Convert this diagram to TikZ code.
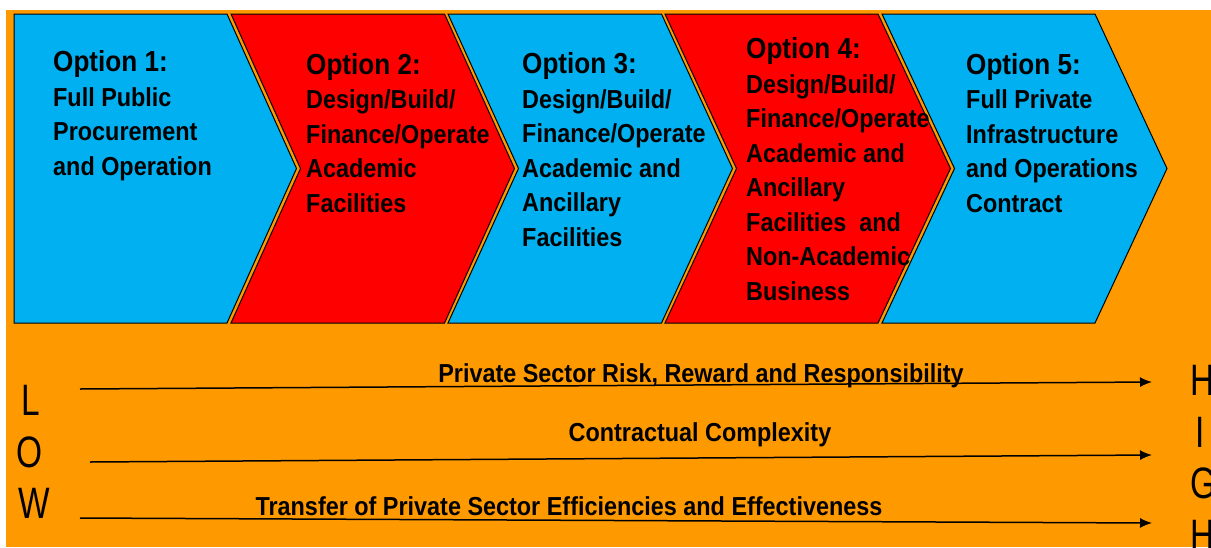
\documentclass[tikz,border=0pt]{standalone}
\usepackage{fontspec}
\setmainfont{Liberation Sans}[FakeStretch=0.9]
\newfontfamily\tallfont{Liberation Sans}[FakeStretch=0.76]
\usetikzlibrary{arrows.meta}

\definecolor{pptorange}{RGB}{255,153,0}
\definecolor{pptblue}{RGB}{0,176,240}
\definecolor{pptred}{RGB}{255,0,0}

\newcommand\optfont{\fontsize{29}{34.5}\selectfont}

\begin{document}
\begin{tikzpicture}[
    x=1pt, y=-1pt,
    chev/.style={
        draw=black, line width=1pt, line join=miter},
    blue chev/.style={chev, fill=pptblue},
    red chev/.style={chev, fill=pptred},
    % base anchor of a multi-line node sits on its last line
    opttext/.style={
        anchor=base west, align=left, inner sep=0pt,
        font=\fontsize{26}{34.5}\selectfont\bfseries},
    arr/.style={-{Latex[length=12pt,width=10pt]}, line width=1.5pt},
    arrlabel/.style={
        anchor=base, inner sep=0pt,
        font=\fontsize{26}{30}\selectfont\bfseries},
    endletter/.style={
        anchor=base, inner sep=0pt,
        font=\tallfont\fontsize{44}{50}\selectfont}
]

%% ── Page and background ─────────────────────────────────────────
\useasboundingbox (0,0) rectangle (1211,547);
\fill[white] (0,0) rectangle (1211,547);
\fill[pptorange] (6,10) rectangle (1211,547);

%% ── Chevrons ────────────────────────────────────────────────────
\filldraw[blue chev]
    (14,14) -- (227,14) -- (296.5,168.5) -- (227,323) -- (14,323) -- cycle;
\filldraw[red chev]
    (231,14) -- (444.5,14) -- (514.5,168.5) -- (444.5,323)
    -- (231,323) -- (300.5,168.5) -- cycle;
\filldraw[blue chev]
    (448,14) -- (661.5,14) -- (732.5,168.5) -- (661.5,323)
    -- (448,323) -- (518.5,168.5) -- cycle;
\filldraw[red chev]
    (665,14) -- (878,14) -- (950.5,168.5) -- (878,323)
    -- (665,323) -- (736.5,168.5) -- cycle;
\filldraw[blue chev]
    (882,14) -- (1095,14) -- (1167,168.5) -- (1095,323)
    -- (882,323) -- (954.5,168.5) -- cycle;

%% ── Option texts ────────────────────────────────────────────────
\node[opttext] (opt1) at (53,175)
    {{\optfont Option 1:}\\Full Public\\Procurement\\and Operation};
\node[opttext] (opt2) at (306,212)
    {{\optfont Option 2:}\\Design/Build/\\Finance/Operate\\Academic\\Facilities};
\node[opttext] (opt3) at (522,246)
    {{\optfont Option 3:}\\Design/Build/\\Finance/Operate\\Academic and\\Ancillary\\Facilities};
\node[opttext] (opt4) at (746,300)
    {{\optfont Option 4:}\\Design/Build/\\Finance/Operate\\Academic and\\Ancillary\\Facilities~ and\\Non-Academic\\Business};
\node[opttext] (opt5) at (966,212)
    {{\optfont Option 5:}\\Full Private\\Infrastructure\\and Operations\\Contract};

%% ── Scale arrows ────────────────────────────────────────────────
\coordinate (risk-s)  at (80,389);
\coordinate (risk-e)  at (1152,382);
\coordinate (cplx-s)  at (90,462);
\coordinate (cplx-e)  at (1152,455);
\coordinate (eff-s)   at (80,518);
\coordinate (eff-e)   at (1152,523);

\draw[arr] (risk-s) -- (risk-e);
\draw[arr] (cplx-s) -- (cplx-e);
\draw[arr] (eff-s)  -- (eff-e);

\node[arrlabel] (risk) at (701,382)
    {Private Sector Risk, Reward and Responsibility};
\node[arrlabel] (cplx) at (700,441) {Contractual Complexity};
\node[arrlabel] (eff)  at (569,515)
    {Transfer of Private Sector Efficiencies and Effectiveness};

%% ── LOW / HIGH ──────────────────────────────────────────────────
\node[endletter] (low-l) at (31,415) {L};
\node[endletter] (low-o) at (30,467) {O};
\node[endletter] (low-w) at (34,518) {W};

\node[endletter] (high-h) at (1203,395) {H};
\node[endletter] (high-i) at (1200,447) {I};
\node[endletter] (high-g) at (1203,498) {G};
\node[endletter] (high-h2) at (1203,550) {H};

\end{tikzpicture}
\end{document}
